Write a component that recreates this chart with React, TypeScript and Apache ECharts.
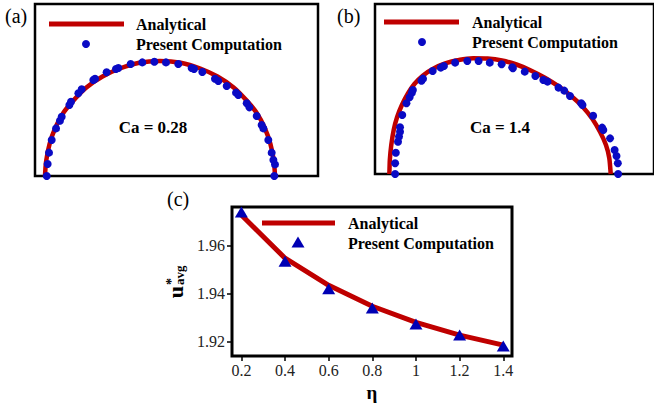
import React, { useEffect, useRef } from "react";
import * as echarts from "echarts";

const RED = "#bf0000";
const BLUE = "#0a0ac4";
const TRI_BLUE = "#0000b4";
const SERIF = '"Liberation Serif", "Times New Roman", serif';

// Panel (a): Ca = 0.28, coordinates in drop-radius units
const analyticalA: number[][] = [
  [-1.0, 0], [-0.99, 0.13], [-0.96, 0.28], [-0.91, 0.42], [-0.84, 0.55], [-0.75, 0.66],
  [-0.64, 0.77], [-0.5, 0.865], [-0.35, 0.935], [-0.18, 0.985], [0, 1.0], [0.18, 0.985],
  [0.35, 0.935], [0.5, 0.865], [0.64, 0.77], [0.75, 0.66], [0.84, 0.55], [0.91, 0.42],
  [0.96, 0.28], [0.99, 0.13], [1.0, 0],
];
const computedA: number[][] = [
  [-0.985, 0.0], [-0.977, 0.104], [-0.965, 0.203], [-0.942, 0.313], [-0.904, 0.414],
  [-0.87, 0.481], [-0.855, 0.516], [-0.788, 0.617], [-0.774, 0.646], [-0.71, 0.719],
  [-0.681, 0.754], [-0.58, 0.835], [-0.565, 0.846], [-0.464, 0.902], [-0.383, 0.93],
  [-0.362, 0.939], [-0.255, 0.974], [-0.154, 0.988], [-0.049, 0.994], [0.052, 0.988],
  [0.159, 0.974], [0.275, 0.939], [0.296, 0.93], [0.368, 0.904], [0.478, 0.846],
  [0.507, 0.826], [0.58, 0.783], [0.661, 0.725], [0.681, 0.704], [0.754, 0.632],
  [0.777, 0.597], [0.841, 0.522], [0.884, 0.443], [0.899, 0.414], [0.942, 0.313],
  [0.971, 0.203], [0.986, 0.139], [1.0, 0.101], [0.994, 0.0],
];

// Panel (b): Ca = 1.4
const analyticalB: number[][] = [
  [-1.0, 0], [-0.996, 0.122], [-0.983, 0.252], [-0.961, 0.383], [-0.93, 0.496],
  [-0.887, 0.6], [-0.835, 0.696], [-0.774, 0.783], [-0.696, 0.857], [-0.6, 0.917],
  [-0.496, 0.961], [-0.374, 0.991], [-0.243, 1.006], [-0.113, 1.004], [0.017, 0.987],
  [0.148, 0.952], [0.278, 0.9], [0.409, 0.835], [0.53, 0.761], [0.643, 0.678],
  [0.748, 0.583], [0.835, 0.478], [0.904, 0.365], [0.957, 0.252], [0.987, 0.139],
  [1.0, 0],
];
const computedB: number[][] = [
  [-0.948, 0.0], [-0.948, 0.093], [-0.942, 0.185], [-0.922, 0.281], [-0.913, 0.325],
  [-0.904, 0.368], [-0.904, 0.406], [-0.884, 0.513], [-0.846, 0.615], [-0.817, 0.667],
  [-0.797, 0.707], [-0.788, 0.73], [-0.71, 0.811], [-0.696, 0.829], [-0.609, 0.896],
  [-0.536, 0.925], [-0.507, 0.939], [-0.406, 0.968], [-0.296, 0.983], [-0.194, 0.983],
  [-0.093, 0.968], [0.014, 0.954], [0.11, 0.928], [0.116, 0.919], [0.223, 0.89],
  [0.319, 0.852], [0.391, 0.817], [0.429, 0.803], [0.528, 0.751], [0.58, 0.725],
  [0.632, 0.678], [0.733, 0.615], [0.745, 0.6], [0.841, 0.507], [0.922, 0.403],
  [0.933, 0.383], [0.994, 0.31], [1.035, 0.209], [1.052, 0.157], [1.064, 0.093],
  [1.067, 0.0],
];

// Panel (c): average velocity vs eta
const etaValues = [0.2, 0.4, 0.6, 0.8, 1.0, 1.2, 1.4];
const analyticalC = [1.9727, 1.9547, 1.9434, 1.9347, 1.928, 1.9227, 1.9185];
const computedC = [1.9739, 1.9534, 1.942, 1.934, 1.9273, 1.9227, 1.9182];
const xTicksC = [0.2, 0.4, 0.6, 0.8, 1.0, 1.2, 1.4];
const yTicksC = [1.92, 1.94, 1.96];

const boldText = (x: number, y: number, text: string, align = "left", size = 16) => ({
  type: "text",
  x,
  y,
  style: {
    text,
    font: `bold ${size}px ${SERIF}`,
    fill: "#000",
    align,
    textAlign: align,
    verticalAlign: "middle",
    textVerticalAlign: "middle",
  },
});

const plainText = (x: number, y: number, text: string, size = 20) => ({
  type: "text",
  x,
  y,
  style: {
    text,
    font: `${size}px ${SERIF}`,
    fill: "#000",
    align: "left",
    textAlign: "left",
    verticalAlign: "middle",
    textVerticalAlign: "middle",
  },
});

export default function App() {
  const ref = useRef<HTMLDivElement>(null);
  useEffect(() => {
    if (!ref.current) return;
    const chart = echarts.init(ref.current, null, { renderer: "svg" });
    const hidden = { show: false };
    const gridBox = (left: number, top: number, width: number, height: number, bw: number) => ({
      left,
      top,
      width,
      height,
      show: true,
      borderColor: "#000",
      borderWidth: bw,
      backgroundColor: "transparent",
    });
    const option: any = {
      animation: false,
      backgroundColor: "#fff",
      grid: [
        gridBox(35, 4, 283, 172, 2.5),
        gridBox(375, 4, 290, 170, 2.5),
        gridBox(232, 207, 280, 155, 3),
      ],
      xAxis: [
        { gridIndex: 0, type: "value", min: -1.087, max: 1.374, ...hidden },
        { gridIndex: 1, type: "value", min: -1.13, max: 1.391, ...hidden },
        {
          gridIndex: 2,
          type: "value",
          min: 0.157,
          max: 1.44,
          axisLine: { show: false },
          splitLine: { show: false },
          axisTick: {
            show: true,
            customValues: xTicksC,
            length: 5,
            lineStyle: { color: "#000", width: 1.5 },
          },
          axisLabel: {
            customValues: xTicksC,
            formatter: (v: number) => String(+v.toFixed(1)),
            color: "#222",
            fontSize: 16,
            fontFamily: SERIF,
            margin: 6,
          },
          name: "η",
          nameLocation: "middle",
          nameGap: 27,
          nameTextStyle: { color: "#000", fontSize: 19, fontWeight: "bold", fontFamily: SERIF },
        },
      ],
      yAxis: [
        { gridIndex: 0, type: "value", min: 0, max: 1.496, ...hidden },
        { gridIndex: 1, type: "value", min: 0, max: 1.478, ...hidden },
        {
          gridIndex: 2,
          type: "value",
          min: 1.914,
          max: 1.976,
          axisLine: { show: false },
          splitLine: { show: false },
          axisTick: {
            show: true,
            customValues: yTicksC,
            length: 5,
            lineStyle: { color: "#000", width: 1.5 },
          },
          axisLabel: {
            customValues: yTicksC,
            formatter: (v: number) => v.toFixed(2),
            color: "#222",
            fontSize: 16,
            fontFamily: SERIF,
            margin: 7,
          },
        },
      ],
      series: [
        {
          type: "line",
          name: "Analytical",
          xAxisIndex: 0,
          yAxisIndex: 0,
          data: analyticalA,
          smooth: 0.3,
          symbol: "none",
          lineStyle: { color: RED, width: 4.5 },
          z: 2,
        },
        {
          type: "scatter",
          name: "Present Computation",
          xAxisIndex: 0,
          yAxisIndex: 0,
          data: computedA,
          symbolSize: 8,
          itemStyle: { color: BLUE, opacity: 1 },
          clip: false,
          z: 3,
        },
        {
          type: "line",
          name: "Analytical",
          xAxisIndex: 1,
          yAxisIndex: 1,
          data: analyticalB,
          smooth: 0.2,
          symbol: "none",
          lineStyle: { color: RED, width: 4.5 },
          z: 2,
        },
        {
          type: "scatter",
          name: "Present Computation",
          xAxisIndex: 1,
          yAxisIndex: 1,
          data: computedB,
          symbolSize: 8,
          itemStyle: { color: BLUE, opacity: 1 },
          clip: false,
          z: 3,
        },
        {
          type: "line",
          name: "Analytical",
          xAxisIndex: 2,
          yAxisIndex: 2,
          data: etaValues.map((e, i) => [e, analyticalC[i]]),
          symbol: "none",
          lineStyle: { color: RED, width: 5 },
          z: 2,
        },
        {
          type: "scatter",
          name: "Present Computation",
          xAxisIndex: 2,
          yAxisIndex: 2,
          data: etaValues.map((e, i) => [e, computedC[i]]),
          symbol: "triangle",
          symbolSize: [13, 11],
          itemStyle: { color: TRI_BLUE, opacity: 1 },
          clip: false,
          z: 3,
        },
      ],
      graphic: [
        plainText(5, 16, "(a)"),
        plainText(337, 16, "(b)"),
        plainText(167, 199, "(c)"),
        // legend (a)
        { type: "line", shape: { x1: 49, y1: 24, x2: 124, y2: 24 }, style: { stroke: RED, lineWidth: 5 } },
        boldText(136, 24, "Analytical"),
        { type: "circle", shape: { cx: 86, cy: 44, r: 4 }, style: { fill: BLUE } },
        boldText(136, 44, "Present Computation"),
        boldText(153, 127, "Ca = 0.28", "center", 17),
        // legend (b)
        { type: "line", shape: { x1: 384, y1: 22, x2: 459, y2: 22 }, style: { stroke: RED, lineWidth: 5 } },
        boldText(472, 22, "Analytical"),
        { type: "circle", shape: { cx: 422, cy: 42, r: 4 }, style: { fill: BLUE } },
        boldText(472, 42, "Present Computation"),
        boldText(500, 127, "Ca = 1.4", "center", 17),
        // legend (c)
        { type: "line", shape: { x1: 262, y1: 223, x2: 335, y2: 223 }, style: { stroke: RED, lineWidth: 5 } },
        boldText(348, 223, "Analytical"),
        {
          type: "polygon",
          shape: { points: [[298, 236.5], [291.5, 247.5], [304.5, 247.5]] },
          style: { fill: TRI_BLUE },
        },
        boldText(348, 243, "Present Computation"),
        // y-axis title u*_avg (rotated)
        {
          type: "group",
          x: 178,
          y: 292,
          rotation: Math.PI / 2,
          children: [
            {
              type: "text",
              x: 0,
              y: -2.5,
              style: {
                text: "u",
                font: `bold 22px ${SERIF}`,
                fill: "#000",
                align: "center",
                textAlign: "center",
                verticalAlign: "middle",
                textVerticalAlign: "middle",
              },
            },
            {
              type: "text",
              x: 7,
              y: 1,
              style: {
                text: "avg",
                font: `bold 13px ${SERIF}`,
                fill: "#000",
                align: "left",
                textAlign: "left",
                verticalAlign: "middle",
                textVerticalAlign: "middle",
              },
            },
            {
              type: "text",
              x: 7,
              y: -7,
              style: {
                text: "*",
                font: `bold 14px ${SERIF}`,
                fill: "#000",
                align: "left",
                textAlign: "left",
                verticalAlign: "middle",
                textVerticalAlign: "middle",
              },
            },
          ],
        },
      ],
    };
    chart.setOption(option);
    return () => chart.dispose();
  }, []);
  return (
    <div
      ref={ref}
      style={{ position: "fixed", left: 0, top: 0, width: 654, height: 403, background: "#fff" }}
    />
  );
}
